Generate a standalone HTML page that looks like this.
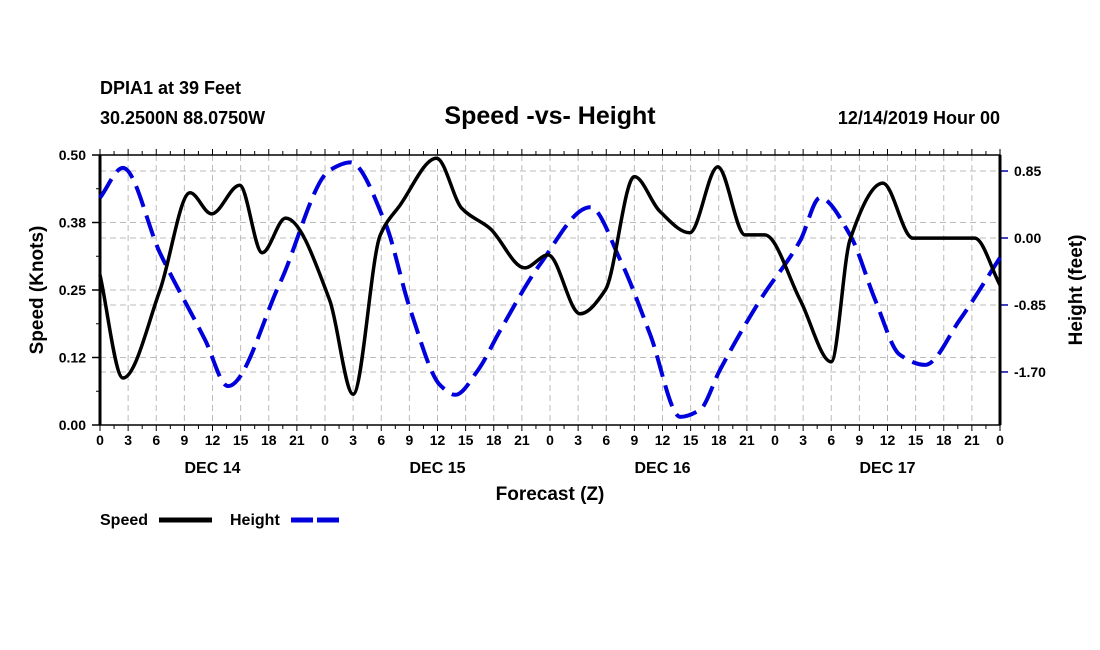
<!DOCTYPE html>
<html><head><meta charset="utf-8">
<style>
html,body{margin:0;padding:0;background:#fff;}
svg{display:block;font-family:"Liberation Sans",Arial,sans-serif;font-weight:bold;}
</style></head>
<body>
<svg id="chart" width="1100" height="650" viewBox="0 0 1100 650">
<text x="100" y="94" font-size="18">DPIA1 at 39 Feet</text>
<text x="100" y="124" font-size="18">30.2500N 88.0750W</text>
<text x="550" y="124" font-size="25" text-anchor="middle">Speed -vs- Height</text>
<text x="1000" y="124" font-size="18" text-anchor="end">12/14/2019 Hour 00</text>
<g id="grid"></g>
<g id="axes"></g>
<g id="series"></g>
<text x="550" y="500" font-size="19" text-anchor="middle">Forecast (Z)</text>
<text transform="translate(43,290) rotate(-90)" font-size="19" text-anchor="middle">Speed (Knots)</text>
<text transform="translate(1082,290) rotate(-90)" font-size="19" text-anchor="middle">Height (feet)</text>
<g>
<text x="100" y="525" font-size="16">Speed</text>
<line x1="159" y1="520" x2="212" y2="520" stroke="#000" stroke-width="5"/>
<text x="230" y="525" font-size="16">Height</text>
<line x1="291" y1="520" x2="342" y2="520" stroke="#0000dd" stroke-width="5" stroke-dasharray="22 4"/>
</g>
</svg>
<script>
const speedHours=[0,2.45,6.4,9.6,11.9,14.9,17.3,19.8,24.5,27,29.9,32,35.9,38.6,41.6,45.3,47.8,51.2,53.9,57,59.7,62.9,65.9,68.8,70.9,74.7,78,80,83.5,86.7,93.3,96];
const speedValues=[0.278,0.087,0.25,0.43,0.391,0.444,0.319,0.383,0.231,0.057,0.352,0.407,0.494,0.401,0.364,0.291,0.315,0.206,0.25,0.46,0.396,0.356,0.478,0.352,0.352,0.231,0.117,0.343,0.448,0.346,0.346,0.259];
const heightHours=[0,2.45,6.4,11.2,13.65,19.2,24.5,26.7,30.4,33.1,36.3,37.9,40.3,42.7,46.9,52.3,55.5,58.7,61.9,64,66.1,70.4,74.7,76.8,80,82.7,85.3,88,91.7,96];
const heightValues=[0.51,0.89,-0.19,-1.29,-1.88,-0.57,0.86,0.96,0.2,-0.91,-1.87,-1.99,-1.68,-1.17,-0.34,0.39,-0.28,-1.23,-2.27,-2.18,-1.68,-0.79,-0.03,0.51,0.04,-0.79,-1.48,-1.61,-1.04,-0.25];
const speedTicks=[0,0.125,0.25,0.375,0.5];
const speedTickLabels=["0.00","0.12","0.25","0.38","0.50"];
const heightTicks=[0.85,0,-0.85,-1.70];
const heightTickLabels=["0.85","0.00","-0.85","-1.70"];
const dayLabels=["DEC 14","DEC 15","DEC 16","DEC 17"];

const L=100,R=1000,T=155,B=425;
const NS="http://www.w3.org/2000/svg";
const xS=h=>L+h*(R-L)/96;
const yS=v=>B-v*(B-T)/0.5;
const yH=v=>238-v*78.8;
function mk(tag,attrs,parent){const e=document.createElementNS(NS,tag);for(const k in attrs)e.setAttribute(k,attrs[k]);parent.appendChild(e);return e;}
const grid=document.getElementById('grid'),axes=document.getElementById('axes'),series=document.getElementById('series');
for(let h=3;h<96;h+=3){const e=mk('line',{x1:xS(h),x2:xS(h),y1:T,y2:B,stroke:'#bbb','stroke-width':1,'stroke-dasharray':'6 4'},grid);

}
speedTicks.forEach((v,i)=>{if(i>0&&i<4){const e=mk('line',{x1:L,x2:R,y1:yS(v),y2:yS(v),stroke:'#bbb','stroke-width':1,'stroke-dasharray':'6 4'},grid);

}
const t=mk('text',{x:L-14,y:yS(v)+5,'font-size':14,'text-anchor':'end'},axes);t.textContent=speedTickLabels[i];


mk('line',{x1:L-8,x2:L,y1:yS(v),y2:yS(v),stroke:'#000','stroke-width':1.5},axes);});
for(let k=0;k<4;k++){mk('line',{x1:L-4,x2:L,y1:yS(0.0625+k*0.125),y2:yS(0.0625+k*0.125),stroke:'#000'},axes);}
heightTicks.forEach((v,i)=>{const e=mk('line',{x1:L,x2:R,y1:yH(v),y2:yH(v),stroke:'#bbb','stroke-width':1,'stroke-dasharray':'6 4'},grid);


mk('line',{x1:R,x2:R+8,y1:yH(v),y2:yH(v),stroke:'#0000aa','stroke-width':1.5},axes);
const t=mk('text',{x:R+14,y:yH(v)+5,'font-size':14},axes);t.textContent=heightTickLabels[i];

});
for(let h=0;h<=96;h+=1.5){const major=h%3===0;
mk('line',{x1:xS(h),x2:xS(h),y1:T-(major?6:4),y2:T,stroke:'#000'},axes);
mk('line',{x1:xS(h),x2:xS(h),y1:B,y2:B+(major?6:4),stroke:'#000'},axes);
if(major){const t=mk('text',{x:xS(h),y:B+20,'font-size':14,'text-anchor':'middle'},axes);t.textContent=String(h%24);

}}
dayLabels.forEach((d,i)=>{const t=mk('text',{x:xS(12+24*i),y:B+48,'font-size':16,'text-anchor':'middle'},axes);t.textContent=d;

});
mk('rect',{x:L,y:T,width:R-L,height:B-T,fill:'none',stroke:'#000','stroke-width':1.5},axes);
mk('line',{x1:L,x2:L,y1:T,y2:B,stroke:'#000','stroke-width':3},axes);
mk('line',{x1:R,x2:R,y1:T,y2:B,stroke:'#000','stroke-width':3},axes);
// monotone cubic (Fritsch-Carlson) path
function path(xs,ys){const n=xs.length,d=[],m=new Array(n);
for(let i=0;i<n-1;i++)d.push((ys[i+1]-ys[i])/(xs[i+1]-xs[i]));
m[0]=d[0];m[n-1]=d[n-2];
for(let i=1;i<n-1;i++){if(d[i-1]*d[i]<=0)m[i]=0;else{const w1=2*(xs[i+1]-xs[i])+(xs[i]-xs[i-1]),w2=(xs[i+1]-xs[i])+2*(xs[i]-xs[i-1]);m[i]=(w1+w2)/(w1/d[i-1]+w2/d[i]);}}
let s='M'+xs[0]+','+ys[0];
for(let i=0;i<n-1;i++){const h=(xs[i+1]-xs[i])/3;
s+=` C${xs[i]+h},${ys[i]+m[i]*h} ${xs[i+1]-h},${ys[i+1]-m[i+1]*h} ${xs[i+1]},${ys[i+1]}`;}
return s;}
const hp=mk('path',{d:path(heightHours.map(xS),heightValues.map(yH)),fill:'none',stroke:'#0000dd','stroke-width':4,'stroke-dasharray':'22 9'},series);


const sp=mk('path',{d:path(speedHours.map(xS),speedValues.map(yS)),fill:'none',stroke:'#000','stroke-width':3.5},series);


</script>
</body></html>
